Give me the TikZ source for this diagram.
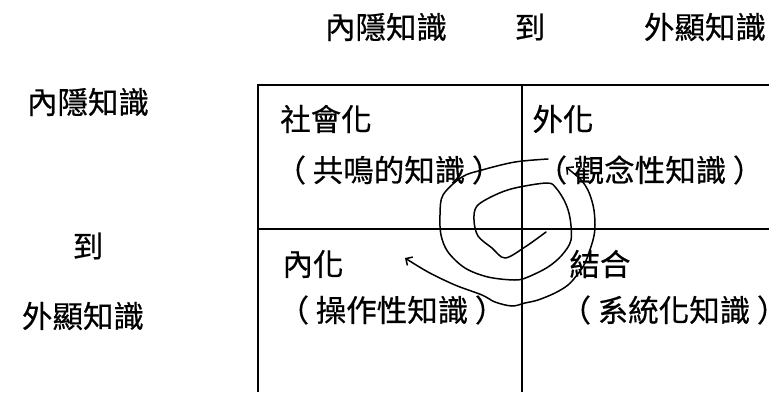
\documentclass[tikz,border=0pt]{standalone}
\usepackage{fontspec}
\setmainfont{Noto Sans CJK TC}[FakeBold=0.5]
\usetikzlibrary{arrows.meta}
\newcommand{\lp}{（\hspace{0.22em}}
\newcommand{\rp}{\hspace{0.22em}）}
\begin{document}
\begin{tikzpicture}[x=1pt,y=-1pt,
  lbl/.style={inner sep=0pt, font=\fontsize{30.5}{36}\selectfont},
  gridline/.style={line width=2.2pt},
  curve/.style={line width=1.5pt, line cap=round, line join=round}]
\useasboundingbox (0,0) rectangle (769,392);
% grid
\coordinate (tl) at (258,85);
\coordinate (tr) at (769,85);
\coordinate (bl) at (258,392);
\coordinate (mt) at (522,85);
\coordinate (mb) at (522,392);
\coordinate (ml) at (258,229);
\coordinate (mr) at (769,229);
\draw[gridline] (tr) -- (tl) -- (bl);
\draw[gridline] (mt) -- (mb);
\draw[gridline] (ml) -- (mr);
% axis labels
\node[lbl] (top1) at (386,27) {內隱知識};
\node[lbl] (top2) at (530,27) {到};
\node[lbl] (top3) at (705,27) {外顯知識};
\node[lbl] (left1) at (88,102) {內隱知識};
\node[lbl] (left2) at (88,246) {到};
\node[lbl] (left3) at (83,316) {外顯知識};
% cells
\node[lbl] (c11) at (326,119) {社會化};
\node[lbl] (c12) at (389,170) {\lp 共鳴的知識\rp};
\node[lbl] (c21) at (563,119) {外化};
\node[lbl] (c22) at (650,170) {\lp 觀念性知識\rp};
\node[lbl] (c31) at (313,264) {內化};
\node[lbl] (c32) at (392,310) {\lp 操作性知識\rp};
\node[lbl] (c41) at (600,264) {結合};
\node[lbl] (c42) at (674,310) {\lp 系統化知識\rp};
% spiral
\draw[curve] plot[smooth, tension=0.55] coordinates {
 (546,232) (525,247) (505,258) (492,248) (478,236) (474,220) (477,206)
 (495,195) (515,188) (547,183) (556,188) (565,202) (570,218) (571,240)
 (562,255) (548,267) (528,277) (515,280) (488,277) (465,268) (448,252)
 (441,235) (440,215) (443,195) (462,177) (482,170) (515,162) (548,159)};
% outer arrow curve
\draw[curve, {Straight Barb[length=5pt,width=10pt]}-{Straight Barb[length=5pt,width=10pt]}]
 plot[smooth, tension=0.55] coordinates {
 (566,167) (585,185) (593,205) (595,225) (593,240) (585,263) (577,275)
 (568,285) (555,293) (538,300) (525,303) (512,306) (495,302) (482,295)
 (455,285) (428,272) (405,258)};
\end{tikzpicture}
\end{document}
